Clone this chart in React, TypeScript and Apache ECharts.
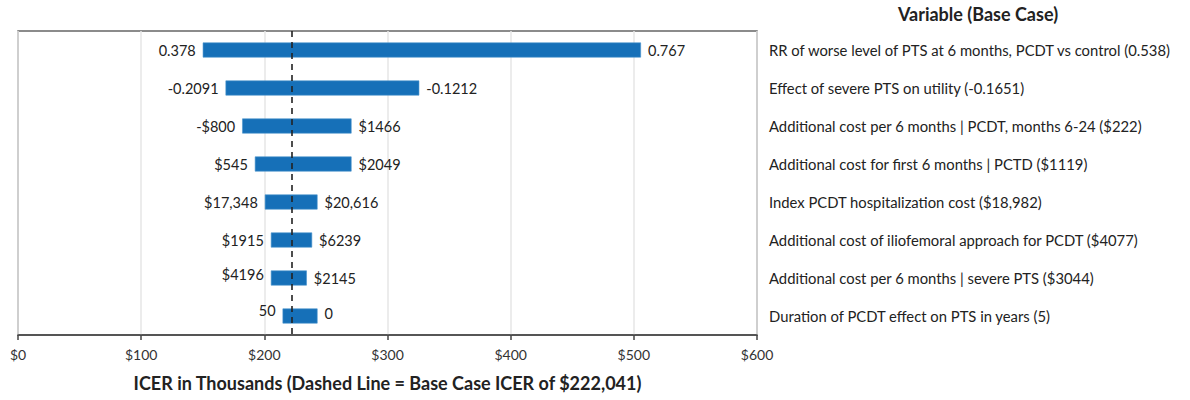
import React, { useEffect, useRef } from "react";
import * as echarts from "echarts";

const variables = [
  "RR of worse level of PTS at 6 months, PCDT vs control (0.538)",
  "Effect of severe PTS on utility (-0.1651)",
  "Additional cost per 6 months | PCDT, months 6-24 ($222)",
  "Additional cost for first 6 months | PCTD ($1119)",
  "Index PCDT hospitalization cost ($18,982)",
  "Additional cost of iliofemoral approach for PCDT ($4077)",
  "Additional cost per 6 months | severe PTS ($3044)",
  "Duration of PCDT effect on PTS in years (5)",
];
const lowIcer = [150.0, 168.5, 182.0, 192.3, 200.4, 205.3, 205.3, 214.8];
const highIcer = [505.8, 325.8, 270.8, 270.8, 243.2, 238.8, 234.5, 243.2];
const leftLabels = ["0.378", "-0.2091", "-$800", "$545", "$17,348", "$1915", "$4196", "50"];
const rightLabels = ["0.767", "-0.1212", "$1466", "$2049", "$20,616", "$6239", "$2145", "0"];
const leftLabelRaise = [0, 0, 0, 0, 0, 0, 4, 6];
const rightLabelRaise = [0, 0, 0, 0, 0, 0, 0, 3];
const baseCaseIcer = 222.041;
const xTicks = [0, 100, 200, 300, 400, 500, 600];

const FONT = "Lato";

export default function App() {
  const ref = useRef<HTMLDivElement>(null);
  useEffect(() => {
    document.body.style.margin = "0";
    const chart = echarts.init(ref.current!, null, { renderer: "svg" });
    chart.setOption({
      animation: false,
      textStyle: { fontFamily: FONT },
      title: {
        text: "Variable (Base Case)",
        left: 973,
        textAlign: "center",
        top: 0,
        textStyle: { fontFamily: FONT, fontSize: 18, fontWeight: "bold", color: "#222" },
      },
      grid: {
        left: 18,
        right: 433,
        top: 31,
        bottom: 65,
        show: true,
        borderColor: "#666",
        borderWidth: 1.5,
        containLabel: false,
      },
      xAxis: {
        type: "value",
        min: xTicks[0],
        max: xTicks[xTicks.length - 1],
        interval: 100,
        axisLine: { show: true, lineStyle: { color: "#444", width: 1.5 } },
        axisTick: { show: true, length: 5, lineStyle: { color: "#444", width: 1.5 } },
        axisLabel: {
          formatter: (v: number) => "$" + v,
          fontSize: 14,
          color: "#333",
          margin: 12,
          fontFamily: FONT,
        },
        splitLine: { show: true, lineStyle: { color: "#e6e6e6", width: 1.5 } },
        name: "ICER in Thousands (Dashed Line = Base Case ICER of $222,041)",
        nameLocation: "middle",
        nameGap: 39,
        nameTextStyle: { fontFamily: FONT, fontSize: 18, fontWeight: "bold", color: "#222" },
      },
      yAxis: {
        type: "category",
        data: variables,
        inverse: true,
        position: "right",
        axisLine: { show: false },
        axisTick: { show: false },
        splitLine: { show: false },
        axisLabel: {
          align: "left",
          margin: 12,
          fontSize: 14.8,
          color: "#222",
          fontFamily: FONT,
        },
      },
      series: [
        {
          type: "bar",
          stack: "t",
          silent: true,
          itemStyle: { color: "transparent" },
          barWidth: 15,
          data: lowIcer.map((v, i) => ({
            value: v,
            label: {
              show: true,
              position: "insideRight",
              distance: 7,
              formatter: leftLabels[i],
              offset: [0, -leftLabelRaise[i]],
              fontSize: 14.5,
              color: "#222",
              fontFamily: FONT,
            },
          })),
        },
        {
          type: "bar",
          stack: "t",
          barWidth: 15,
          itemStyle: { color: "#1670b8", borderColor: "#4a93cc", borderWidth: 0.6 },
          data: highIcer.map((v, i) => ({
            value: +(v - lowIcer[i]).toFixed(3),
            label: {
              show: true,
              position: "right",
              distance: 7,
              formatter: rightLabels[i],
              offset: [0, -rightLabelRaise[i]],
              fontSize: 14.5,
              color: "#222",
              fontFamily: FONT,
            },
          })),
          markLine: {
            silent: true,
            symbol: "none",
            label: { show: false },
            lineStyle: { color: "#222", type: [6, 5], width: 1.6 },
            data: [{ xAxis: baseCaseIcer }],
          },
        },
      ],
    });
    return () => chart.dispose();
  }, []);
  return <div ref={ref} style={{ width: 1190, height: 400 }} />;
}
